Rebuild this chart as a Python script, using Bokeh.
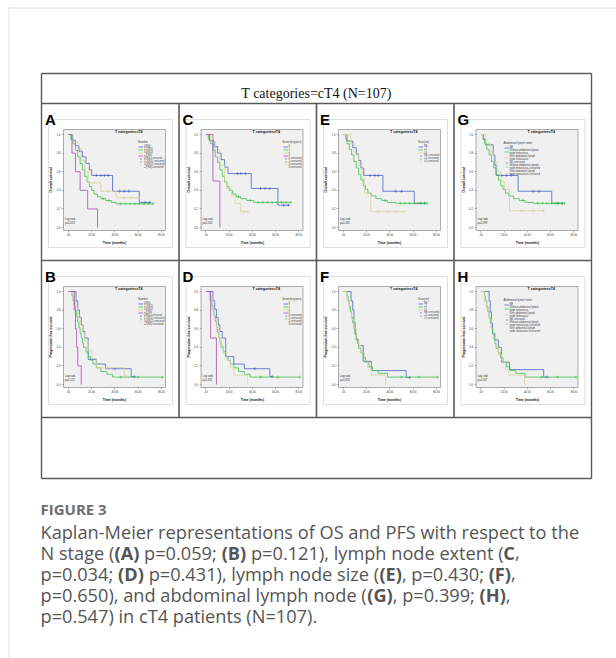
import glob
import subprocess
import numpy as np
from bokeh.plotting import figure
from bokeh.models import Range1d, LinearAxis, FixedTicker, Legend, LegendItem
from bokeh.core.properties import value
from bokeh.embed import file_html
from bokeh.resources import INLINE

# ------------------------------------------------------------------ texts
TABLE_TITLE = "T categories=cT4 (N=107)"
PANEL_TITLE = "T categories=T4"
X_LABEL = "Time (months)"
OS_LABEL = "Overall survival"
PFS_LABEL = "Progression-free survival"
X_TICKS = [0, 20, 40, 60, 80]
X_TICK_LABELS = [".00", "20.00", "40.00", "60.00", "80.00"]
Y_TICKS = [0.0, 0.2, 0.4, 0.6, 0.8, 1.0]
Y_TICK_LABELS = ["0.0", "0.2", "0.4", "0.6", "0.8", "1.0"]

FIG_LABEL = "FIGURE 3"
CAPTION = [
    [("Kaplan-Meier representations of OS and PFS with respect to the", False)],
    [("N stage (", False), ("(A)", True), (" p=0.059; ", False), ("(B)", True),
     (" p=0.121), lymph node extent (", False), ("C", True), (",", False)],
    [("p=0.034; ", False), ("(D)", True), (" p=0.431), lymph node size (", False),
     ("(E)", True), (", p=0.430; ", False), ("(F)", True), (",", False)],
    [("p=0.650), and abdominal lymph node (", False), ("(G)", True),
     (", p=0.399; ", False), ("(H)", True), (",", False)],
    [("p=0.547) in cT4 patients (N=107).", False)],
]

# ------------------------------------------------------------------ data
NUMBER_GROUPS = ["0(N0)", "1-2(N1)", "3-6(N2)", "≥7(N3)"]
EXTENT_GROUPS = ["0", "1", "2", "3"]
SIZE_GROUPS = ["NE", "≤1", ">1"]
ABD_GROUPS = ["NE", "Without abdominal lymph\nnode metastasis", "With abdominal lymph\nnode metastasis"]

# Panel A: OS by number of positive nodes
A_TIMES = [[0, 3, 6, 9, 12, 15, 18, 20, 38, 61],
           [0, 2, 4, 6, 8, 10, 12, 14, 16, 18, 20, 22, 25, 28, 32, 37, 41],
           [0, 4, 8, 11, 14, 17, 28, 41],
           [0, 3, 6, 10, 16.5, 25]]
A_SURV = [[1.0, 0.94, 0.88, 0.82, 0.76, 0.69, 0.62, 0.56, 0.39, 0.27],
          [1.0, 0.95, 0.9, 0.83, 0.76, 0.69, 0.62, 0.55, 0.49, 0.44, 0.4, 0.36, 0.33, 0.31, 0.29, 0.27, 0.255],
          [1.0, 0.92, 0.84, 0.72, 0.6, 0.48, 0.39, 0.32],
          [1.0, 0.8, 0.6, 0.4, 0.2, 0.0]]
A_LAST = [71, 73, 61, 25]
A_CENS = [[24, 28, 31, 34, 44, 48, 52, 66, 70],
          [30, 35, 45, 49, 53, 57, 61, 65, 69, 73],
          [22, 34, 48, 54, 61],
          []]

# Panel B: PFS by number of positive nodes
B_TIMES = [[0, 6.5, 8, 9.5, 11, 12.5, 14, 17, 24, 32, 54],
           [0, 3, 4, 5, 6, 7, 8, 9, 10, 11, 12, 13, 15, 17, 19, 21, 24, 28, 33, 38],
           [0, 4, 6, 8, 10, 12, 14, 17, 20, 24, 48],
           [0, 5, 6, 7, 8, 11]]
B_SURV = [[1.0, 0.9, 0.8, 0.72, 0.64, 0.57, 0.5, 0.27, 0.22, 0.17, 0.085],
          [1.0, 0.95, 0.9, 0.85, 0.79, 0.73, 0.67, 0.61, 0.55, 0.5, 0.45, 0.4, 0.35, 0.3, 0.26, 0.22, 0.18, 0.14, 0.11, 0.08],
          [1.0, 0.92, 0.84, 0.75, 0.66, 0.56, 0.47, 0.37, 0.28, 0.18, 0.09],
          [1.0, 0.8, 0.6, 0.4, 0.2, 0.0]]
B_LAST = [57, 81, 50, 11]
B_CENS = [[40, 57], [45, 60, 81], [36, 50], []]

# Panel C: OS by lymph node extent
C_TIMES = [[0, 3, 7, 10, 13, 16, 19, 39, 62],
           [0, 2, 4, 6, 8, 10, 12, 14, 16, 18, 20, 23, 26, 30, 35, 41],
           [0, 4, 8, 12, 16, 18, 22, 25, 30],
           [0, 6, 12]]
C_SURV = [[1.0, 0.93, 0.87, 0.8, 0.73, 0.65, 0.58, 0.42, 0.24],
          [1.0, 0.95, 0.9, 0.83, 0.76, 0.7, 0.62, 0.55, 0.49, 0.44, 0.4, 0.36, 0.33, 0.31, 0.29, 0.27],
          [1.0, 0.92, 0.83, 0.67, 0.5, 0.42, 0.34, 0.26, 0.17],
          [1.0, 0.5, 0.0]]
C_LAST = [72, 73, 36, 12]
C_CENS = [[27, 30, 34, 47, 51, 55, 67, 71],
          [28, 38, 45, 49, 53, 57, 61, 65, 69, 73],
          [33, 36],
          []]

# Panel D: PFS by lymph node extent
D_TIMES = [[0, 6, 7.5, 9, 10.5, 12, 14, 17, 24, 33, 55],
           [0, 3, 4, 5, 6, 7, 8, 9, 10, 11, 12, 13, 15, 17, 19, 21, 24, 28, 33, 38],
           [0, 3, 5, 7, 9, 11, 13, 15, 18, 21, 24, 36],
           [0, 4, 9]]
D_SURV = [[1.0, 0.9, 0.81, 0.72, 0.64, 0.57, 0.5, 0.3, 0.22, 0.17, 0.085],
          [1.0, 0.95, 0.9, 0.85, 0.8, 0.74, 0.68, 0.62, 0.56, 0.5, 0.45, 0.4, 0.35, 0.3, 0.26, 0.22, 0.18, 0.14, 0.11, 0.08],
          [1.0, 0.9, 0.8, 0.7, 0.6, 0.5, 0.42, 0.34, 0.26, 0.18, 0.1, 0.0],
          [1.0, 0.5, 0.0]]
D_LAST = [57, 81, 36, 9]
D_CENS = [[42, 57], [47, 62, 81], [], []]

# Panel E: OS by lymph node size
E_TIMES = [[0, 3, 8, 11, 13, 15, 17.5, 34, 61],
           [0, 2, 3, 5, 7, 9, 11, 13, 15, 17, 19, 21, 24, 28, 33, 38, 45],
           [0, 6, 10, 13, 16, 18, 23.5]]
E_SURV = [[1.0, 0.93, 0.86, 0.79, 0.72, 0.64, 0.56, 0.39, 0.26],
          [1.0, 0.95, 0.9, 0.84, 0.78, 0.71, 0.64, 0.57, 0.51, 0.45, 0.41, 0.37, 0.34, 0.31, 0.29, 0.27, 0.26],
          [1.0, 0.9, 0.8, 0.67, 0.53, 0.37, 0.17]]
E_LAST = [71, 72, 52]
E_CENS = [[23, 27, 30, 45, 50, 66, 70],
          [36, 49, 53, 57, 61, 64, 67, 70, 72],
          [30, 38, 45, 52]]

# Panel F: PFS by lymph node size
F_TIMES = [[0, 6.5, 8, 9, 10, 11, 13, 17, 24, 54],
           [0, 3, 4, 5, 6, 7, 8, 9, 10, 11, 12, 13, 15, 17, 19, 22, 25, 30, 38],
           [0, 3, 5, 7, 9, 11, 13, 15, 18, 21, 24, 36.5]]
F_SURV = [[1.0, 0.9, 0.8, 0.67, 0.55, 0.48, 0.42, 0.25, 0.15, 0.075],
          [1.0, 0.95, 0.9, 0.84, 0.78, 0.72, 0.66, 0.6, 0.54, 0.49, 0.44, 0.39, 0.34, 0.29, 0.24, 0.19, 0.15, 0.12, 0.08],
          [1.0, 0.9, 0.8, 0.7, 0.6, 0.5, 0.42, 0.34, 0.26, 0.18, 0.1, 0.0]]
F_LAST = [57, 81, 36.5]
F_CENS = [[57], [50, 65, 81], []]

# Panel G: OS by abdominal lymph node
G_TIMES = [[0, 2, 4, 10.5, 12, 13, 32, 61],
           [0, 2, 3, 5, 7, 9, 11, 13, 15, 17, 19, 21, 24, 28, 33, 38, 45],
           [0, 4, 8, 11, 14, 17, 20, 24.5]]
G_SURV = [[1.0, 0.95, 0.89, 0.78, 0.67, 0.56, 0.39, 0.26],
          [1.0, 0.95, 0.9, 0.84, 0.78, 0.71, 0.64, 0.57, 0.51, 0.45, 0.41, 0.37, 0.34, 0.31, 0.29, 0.27, 0.26],
          [1.0, 0.9, 0.8, 0.7, 0.6, 0.5, 0.41, 0.18]]
G_LAST = [71, 72, 54]
G_CENS = [[18, 22, 26, 45, 50, 66, 70],
          [36, 49, 53, 57, 61, 64, 67, 70, 72],
          [35, 45, 54]]

# Panel H: PFS by abdominal lymph node
H_TIMES = [[0, 7, 8, 9, 10, 12, 15, 17.6, 24.5, 54],
           [0, 3, 4, 5, 6, 7, 8, 9, 10, 11, 12, 13, 15, 17, 19, 22, 25, 30, 38],
           [0, 3, 5, 7, 9, 11, 13, 15, 18, 21, 24, 37.6]]
H_SURV = [[1.0, 0.9, 0.78, 0.66, 0.55, 0.48, 0.4, 0.24, 0.16, 0.08],
          [1.0, 0.95, 0.9, 0.84, 0.78, 0.72, 0.66, 0.6, 0.54, 0.49, 0.44, 0.39, 0.34, 0.29, 0.24, 0.19, 0.15, 0.12, 0.08],
          [1.0, 0.9, 0.8, 0.7, 0.6, 0.5, 0.4, 0.32, 0.24, 0.16, 0.1, 0.0]]
H_LAST = [57, 82, 37.6]
H_CENS = [[57], [52, 66, 82], []]

P_VALUES = {"A": "p=0.059", "B": "p=0.121", "C": "p=0.034", "D": "p=0.431",
            "E": "p=0.430", "F": "p=0.650", "G": "p=0.399", "H": "p=0.547"}

# ------------------------------------------------------------------ style / layout
FONT = "Liberation Sans"
GROUP_COLORS = ["#4d62c6", "#3fc452", "#d8d19c", "#a64ea9"]
XMIN, XMAX = -4.3, 83.6
YMIN, YMAX = -0.032, 1.054
PX0, PY0, PX1, PY1 = 0, 0, 616, 658
W, H = PX1 - PX0, PY1 - PY0
COL_X = [41, 178.5, 316, 453.5]
ROW_Y = [103, 260]
TABLE = (41, 591, 73, 478)

p = figure(width=W, height=H, x_range=Range1d(PX0, PX1), y_range=Range1d(PY1, PY0),
           x_axis_type=None, y_axis_type=None, output_backend="svg",
           toolbar_location=None, min_border=0, outline_line_color=None,
           background_fill_color="white", border_fill_color="white")

# page card border (top & left)
p.segment(x0=[8, 8.5], y0=[7.5, 7], x1=[616, 8.5], y1=[7.5, 658],
          line_color="#e2e2e2", line_width=1)

# table lines
tx0, tx1, ty0, ty1 = TABLE
hy = [ty0, ROW_Y[0], ROW_Y[1], ROW_Y[1] + 157, ty1]
p.segment(x0=[tx0] * len(hy), x1=[tx1] * len(hy), y0=hy, y1=hy, line_color="#5a5a5a", line_width=1.4)
vx = [tx0, tx1]
p.segment(x0=vx, x1=vx, y0=[ty0] * 2, y1=[ty1] * 2, line_color="#5a5a5a", line_width=1.4)
vx2 = COL_X[1:]
p.segment(x0=vx2, x1=vx2, y0=[ROW_Y[0]] * 3, y1=[ROW_Y[1] + 157] * 3, line_color="#5a5a5a", line_width=1.6)
p.text(x=[(tx0 + tx1) / 2], y=[93], text=[TABLE_TITLE], text_align="center",
       text_baseline="alphabetic", text_font=value("Liberation Serif"), text_font_size="14px",
       text_color="#111111")

PANELS = [
    ("A", 0, 0, NUMBER_GROUPS, A_TIMES, A_SURV, A_LAST, A_CENS, "Number", OS_LABEL, 97),
    ("B", 0, 1, NUMBER_GROUPS, B_TIMES, B_SURV, B_LAST, B_CENS, "Number", PFS_LABEL, 97),
    ("C", 1, 0, EXTENT_GROUPS, C_TIMES, C_SURV, C_LAST, C_CENS, "Extent(regions)", OS_LABEL, 104),
    ("D", 1, 1, EXTENT_GROUPS, D_TIMES, D_SURV, D_LAST, D_CENS, "Extent(regions)", PFS_LABEL, 104),
    ("E", 2, 0, SIZE_GROUPS, E_TIMES, E_SURV, E_LAST, E_CENS, "Size(cm)", OS_LABEL, 102),
    ("F", 2, 1, SIZE_GROUPS, F_TIMES, F_SURV, F_LAST, F_CENS, "Size(cm)", PFS_LABEL, 102),
    ("G", 3, 0, ABD_GROUPS, G_TIMES, G_SURV, G_LAST, G_CENS, "Abdominal lymph node", OS_LABEL, 50),
    ("H", 3, 1, ABD_GROUPS, H_TIMES, H_SURV, H_LAST, H_CENS, "Abdominal lymph node", PFS_LABEL, 50),
]

for key, col, row, groups, T, S, LAST, CENS, ltitle, ylab, leg_off in PANELS:
    cx, cy = COL_X[col], ROW_Y[row]
    p.quad(left=[cx + 7], right=[cx + 131], top=[cy + 16], bottom=[cy + 144],
           fill_color="white", line_color="#dedede", line_width=1)
    p.text(x=[cx + 3.5], y=[cy + 16], text=[key], text_font=value(FONT), text_font_style="bold",
           text_font_size="15px", text_baseline="alphabetic", text_color="black")
    fx0, fx1, fy0, fy1 = cx + 22, cx + 124, cy + 26, cy + 127
    kx = (XMAX - XMIN) / (fx1 - fx0)
    ky = (YMAX - YMIN) / (fy1 - fy0)
    xs = XMIN - (fx0 - PX0) * kx
    ys = YMIN - (PY1 - fy1) * ky
    p.extra_x_ranges[key] = Range1d(xs, xs + W * kx)
    p.extra_y_ranges[key] = Range1d(ys, ys + H * ky)
    kw = dict(x_range_name=key, y_range_name=key)
    p.quad(left=[XMIN], right=[XMAX], bottom=[YMIN], top=[YMAX], fill_color="#f0f0f0",
           line_color="#8a8a8a", line_width=0.7, **kw)
    line_items, cens_items = [], []
    for gi, lab in enumerate(groups):
        t = list(T[gi]) + [LAST[gi]]
        s = list(S[gi]) + [S[gi][-1]]
        color = GROUP_COLORS[gi]
        r = p.step(x=t, y=s, mode="after", line_color=color, line_width=0.8, **kw)
        line_items.append(LegendItem(label=lab, renderers=[r]))
        ct = np.array(CENS[gi], dtype=float)
        idx = np.searchsorted(np.array(T[gi], dtype=float), ct, side="right") - 1
        cy_vals = np.array(S[gi])[idx] if len(ct) else np.array([])
        rc = p.scatter(x=ct, y=cy_vals, marker="cross", size=3, line_color=color,
                       line_width=0.6, **kw)
        cens_items.append(LegendItem(label=lab + "-censored", renderers=[rc]))
    p.text(x=[52], y=[1.046], text=[PANEL_TITLE], text_align="center", text_baseline="top",
           text_font=value(FONT), text_font_style="bold", text_font_size="3.6px",
           text_color="#111111", **kw)
    p.text(x=[-3, -3], y=[0.085, 0.04], text=["Log rank", P_VALUES[key]], text_align="left",
           text_baseline="middle", text_font=value(FONT), text_font_size="2.7px",
           text_color="#333333", **kw)
    xa = LinearAxis(fixed_location=YMIN, bounds=(XMIN, XMAX), ticker=FixedTicker(ticks=X_TICKS),
                    major_label_overrides={t: l for t, l in zip(X_TICKS, X_TICK_LABELS)},
                    axis_label=X_LABEL, **kw)
    ya = LinearAxis(fixed_location=XMIN, bounds=(YMIN, YMAX), ticker=FixedTicker(ticks=Y_TICKS),
                    major_label_overrides={t: l for t, l in zip(Y_TICKS, Y_TICK_LABELS)},
                    axis_label=ylab, **kw)
    for ax in (xa, ya):
        ax.axis_line_color = None
        ax.major_tick_in = 0
        ax.major_tick_out = 2
        ax.major_tick_line_color = "#777777"
        ax.major_tick_line_width = 0.5
        ax.minor_tick_line_color = None
        ax.major_label_text_font = FONT
        ax.major_label_text_font_size = "2.7px"
        ax.major_label_text_color = "#333333"
        ax.major_label_standoff = 1
        ax.axis_label_text_font = FONT
        ax.axis_label_text_font_size = "3.4px"
        ax.axis_label_text_font_style = "bold"
        ax.axis_label_text_color = "#111111"
        ax.axis_label_standoff = 1
    p.add_layout(xa, "below")
    p.add_layout(ya, "left")
    n_lines = sum(1 + lab.count("\n") for lab in groups) * 2
    est_h = 4.5 + n_lines * 3.1
    top = cy + 37
    leg = Legend(items=line_items + cens_items, title=ltitle,
                 location=(cx + leg_off - PX0, PY1 - (top + est_h)),
                 label_text_font=FONT, label_text_font_size="2.6px", label_height=3,
                 label_standoff=1, glyph_width=5, glyph_height=3, spacing=0, padding=0,
                 margin=0, title_text_font=FONT, title_text_font_size="2.8px",
                 title_text_font_style="normal", title_standoff=1, border_line_color=None,
                 background_fill_alpha=0)
    p.add_layout(leg)

# ------------------------------------------------------------------ caption
CAP_FS = 18.2
FIG_FS = 15


def _make_measure():
    try:
        from PIL import ImageFont
    except Exception:
        return None

    def find(bold):
        cands = []
        try:
            out = subprocess.run(["fc-match", "-f", "%{file}", "Open Sans:bold" if bold else "Open Sans"],
                                 capture_output=True, text=True, timeout=5).stdout.strip()
            if out:
                cands.append(out)
        except Exception:
            pass
        files = glob.glob("/usr/share/fonts/**/OpenSans*.ttf", recursive=True)
        want = "OpenSans-Bold.ttf" if bold else "OpenSans-Regular.ttf"
        exact = [f for f in files if f.endswith(want)]
        return exact[0] if exact else (cands[0] if cands else (files[0] if files else None))

    fonts = {}
    for b in (False, True):
        path = find(b)
        if path is None:
            return None
        try:
            f = ImageFont.truetype(path, 100)
        except Exception:
            return None
        if b and ("[" in path or "Variable" in path):
            try:
                f.set_variation_by_name("Bold")
            except Exception:
                pass
        fonts[b] = f

    def measure(text, bold, size):
        return fonts[bold].getlength(text) * size / 100.0
    return measure


_measure = _make_measure()


def measure(text, bold, size):
    if _measure is not None:
        return _measure(text, bold, size)
    return len(text) * size * (0.58 if bold else 0.54)


p.text(x=[40], y=[508], text=[FIG_LABEL], text_baseline="middle", text_font=value("Open Sans"),
       text_font_style="bold", text_font_size=f"{FIG_FS}px", text_color="#6e6e6e")

cx_list, cy_list, ct_list, cb_list = [], [], [], []
for li, segs in enumerate(CAPTION):
    x = 40.0
    ycap = 531 + 21.2 * li
    for txt, bold in segs:
        lead = len(txt) - len(txt.lstrip(" "))
        xs_ = x + measure(" " * lead, bold, CAP_FS) if lead else x
        cx_list.append(xs_)
        cy_list.append(ycap)
        ct_list.append(txt.strip(" "))
        cb_list.append("bold" if bold else "normal")
        x += measure(txt, bold, CAP_FS)

for style in ("normal", "bold"):
    sel = [i for i, b in enumerate(cb_list) if b == style]
    p.text(x=[cx_list[i] for i in sel], y=[cy_list[i] for i in sel], text=[ct_list[i] for i in sel],
           text_baseline="middle", text_font=value("Open Sans"), text_font_style=style,
           text_font_size=f"{CAP_FS}px", text_color="#555555")

open("out.html", "w").write(file_html(p, INLINE))
